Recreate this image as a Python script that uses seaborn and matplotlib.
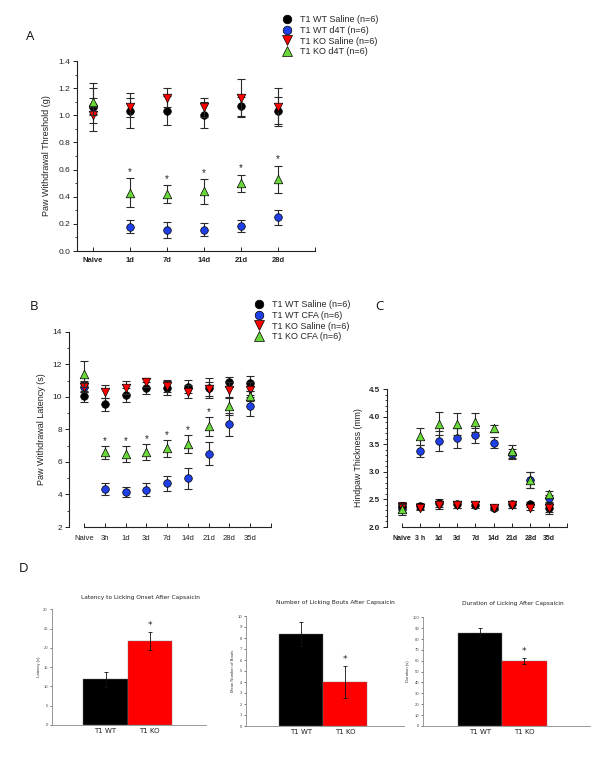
import numpy as np
import pandas as pd
import matplotlib
matplotlib.use('Agg')
import matplotlib.pyplot as plt
from matplotlib.lines import Line2D
from matplotlib.ticker import MultipleLocator
import seaborn as sns

sns.set_theme(style='white')
plt.rcParams['font.family'] = ['Liberation Sans', 'DejaVu Sans']

# ---------------- Panel A data ----------------
a_days = ['Naive', '1d', '7d', '14d', '21d', '28d']
a_wt_saline = [1.07, 1.035, 1.035, 1.00, 1.065, 1.035]
a_wt_saline_err = [0.06, 0.13, 0.105, 0.095, 0.07, 0.10]
a_wt_d4t = [1.06, 0.18, 0.155, 0.155, 0.185, 0.25]
a_wt_d4t_err = [0.175, 0.05, 0.058, 0.048, 0.045, 0.055]
a_ko_saline = [1.00, 1.06, 1.13, 1.06, 1.13, 1.06]
a_ko_saline_err = [0.06, 0.07, 0.07, 0.07, 0.14, 0.14]
a_ko_d4t = [1.10, 0.43, 0.42, 0.44, 0.50, 0.53]
a_ko_d4t_err = [0.10, 0.105, 0.066, 0.09, 0.063, 0.10]
a_star_idx = [1, 2, 3, 4, 5]
a_labels = ['T1 WT Saline (n=6)', 'T1 WT d4T (n=6)', 'T1 KO Saline (n=6)', 'T1 KO d4T (n=6)']

# ---------------- Panel B data ----------------
b_days = ['Naive', '3h', '1d', '3d', '7d', '14d', '21d', '28d', '35d']
b_wt_saline = [10.02, 9.55, 10.10, 10.53, 10.53, 10.63, 10.53, 10.90, 10.83]
b_wt_saline_err = [0.35, 0.4, 0.45, 0.35, 0.45, 0.4, 0.6, 0.3, 0.45]
b_wt_cfa = [10.60, 4.33, 4.13, 4.29, 4.68, 4.99, 6.50, 8.32, 9.46]
b_wt_cfa_err = [0.3, 0.38, 0.3, 0.4, 0.45, 0.65, 0.7, 0.7, 0.65]
b_ko_saline = [10.63, 10.32, 10.57, 10.88, 10.67, 10.32, 10.47, 10.43, 10.43]
b_ko_saline_err = [0.35, 0.4, 0.4, 0.3, 0.35, 0.4, 0.45, 0.5, 0.45]
b_ko_cfa = [11.39, 6.60, 6.48, 6.60, 6.83, 7.11, 8.18, 9.44, 10.06]
b_ko_cfa_err = [0.8, 0.4, 0.5, 0.5, 0.5, 0.55, 0.6, 0.55, 0.3]
b_star_idx = [1, 2, 3, 4, 5, 6]
b_labels = ['T1 WT Saline (n=6)', 'T1 WT CFA (n=6)', 'T1 KO Saline (n=6)', 'T1 KO CFA (n=6)']

# ---------------- Panel C data ----------------
c_days = ['Naive', '3 h', '1d', '3d', '7d', '14d', '21d', '28d', '35d']
c_wt_saline = [2.38, 2.38, 2.43, 2.41, 2.40, 2.35, 2.41, 2.41, 2.34]
c_wt_saline_err = [0.08, 0.05, 0.07, 0.06, 0.06, 0.04, 0.06, 0.05, 0.1]
c_wt_cfa = [2.35, 3.38, 3.56, 3.62, 3.66, 3.53, 3.32, 2.85, 2.52]
c_wt_cfa_err = [0.08, 0.11, 0.18, 0.18, 0.14, 0.1, 0.09, 0.14, 0.06]
c_ko_saline = [2.36, 2.35, 2.39, 2.40, 2.40, 2.34, 2.40, 2.35, 2.34]
c_ko_saline_err = [0.06, 0.05, 0.06, 0.05, 0.05, 0.04, 0.06, 0.05, 0.06]
c_ko_cfa = [2.32, 3.64, 3.87, 3.87, 3.90, 3.79, 3.37, 2.85, 2.59]
c_ko_cfa_err = [0.1, 0.15, 0.21, 0.2, 0.17, 0.06, 0.12, 0.15, 0.06]

# ---------------- Panel D data ----------------
d_groups = ['T1 WT', 'T1 KO']
d1_vals = [11.8, 21.8]
d1_err = [2.0, 2.3]
d2_vals = [8.35, 4.0]
d2_err = [1.07, 1.43]
d3_vals = [86.0, 59.8]
d3_err = [3.7, 2.6]
d_titles = ['Latency to Licking Onset After Capsaicin',
            'Number of Licking Bouts After Capsaicin',
            'Duration of Licking After Capsaicin']
d_ylabels = ['Latency (s)', 'Mean Number of Bouts', 'Duration (s)']

# ---------------- styles ----------------
BLACK = '#000000'
BLUE = '#1f3fe6'
RED = '#ff0000'
GREEN = '#6ad83a'
styles = [('o', BLACK, 30), ('o', BLUE, 30), ('v', RED, 38), ('^', GREEN, 38)]
zorders = [4, 3, 5, 6]

W, H = 600, 776
fig = plt.figure(figsize=(6.0, 7.76), dpi=100)
fig.patch.set_facecolor('white')


def ax_px(left, right, top, bottom):
    return fig.add_axes([left / W, 1 - bottom / H, (right - left) / W, (bottom - top) / H])


def draw_series(ax, y, err, style, z):
    marker, color, s = style
    x = np.arange(len(y))
    ax.errorbar(x, y, yerr=err, fmt='none', ecolor='#2a2a2a', elinewidth=0.8,
                capsize=2.6, capthick=0.8, zorder=z)
    sns.scatterplot(x=x, y=y, marker=marker, color=color, s=s, edgecolor='black',
                    linewidth=0.5, ax=ax, zorder=z + 0.5, legend=False)


def style_axes(ax, yfs=6, xfs=5.5, xbold=False):
    sns.despine(ax=ax)
    for sp in ['left', 'bottom']:
        ax.spines[sp].set_color('#222222')
        ax.spines[sp].set_linewidth(0.8)
    ax.set_facecolor('white')
    ax.tick_params(axis='y', which='major', direction='out', length=3, width=0.7,
                   labelsize=yfs, colors='#222222', left=True, pad=2)
    ax.tick_params(axis='y', which='minor', direction='out', length=1.6, width=0.6,
                   left=True, colors='#222222')
    ax.tick_params(axis='x', which='major', direction='in', length=3, width=0.7,
                   labelsize=xfs, colors='#222222', bottom=True, pad=4)
    if xbold:
        for lab in ax.get_xticklabels():
            lab.set_fontweight('bold')


def legend_handles(labels):
    hs = []
    for (m, c, s), lab in zip(styles, labels):
        hs.append(Line2D([], [], marker=m, color='none', markerfacecolor=c,
                         markeredgecolor='black', markeredgewidth=0.5,
                         markersize=6.2 if m == 'o' else 6.8, label=lab))
    return hs

# ================= Panel A =================
axA = ax_px(77, 315, 61, 251)
series_A = [(a_wt_saline, a_wt_saline_err), (a_wt_d4t, a_wt_d4t_err),
            (a_ko_saline, a_ko_saline_err), (a_ko_d4t, a_ko_d4t_err)]
for i, (y, e) in enumerate(series_A):
    draw_series(axA, y, e, styles[i], zorders[i])
axA.set_xlim(-0.43, 6.0)
axA.set_ylim(0, 1.4)
axA.set_yticks(np.arange(0, 1.41, 0.2))
axA.set_yticklabels([f'{v:.1f}' for v in np.arange(0, 1.41, 0.2)])
axA.yaxis.set_minor_locator(MultipleLocator(0.1))
axA.set_xticks(range(len(a_days) + 1))
axA.set_xticklabels(a_days + [''])
style_axes(axA, yfs=6, xfs=5.5, xbold=True)
axA.set_ylabel('Paw Withdrawal Threshold (g)', fontsize=6.5, color='#222222', labelpad=5)
for i in a_star_idx:
    axA.text(i, a_ko_d4t[i] + a_ko_d4t_err[i] + 0.045, '*', ha='center', va='center',
             fontsize=7, color='#222222')
fig.legend(handles=legend_handles(a_labels), loc='upper left',
           bbox_to_anchor=(282.5 / W, 1 - 15.5 / H), frameon=False, fontsize=6.5,
           handlelength=1.0, handletextpad=0.9, labelspacing=0.17, borderpad=0,
           borderaxespad=0)

# ================= Panel B =================
axB = ax_px(69, 271, 331.7, 527)
series_B = [(b_wt_saline, b_wt_saline_err), (b_wt_cfa, b_wt_cfa_err),
            (b_ko_saline, b_ko_saline_err), (b_ko_cfa, b_ko_cfa_err)]
for i, (y, e) in enumerate(series_B):
    draw_series(axB, y, e, styles[i], zorders[i])
axB.set_xlim(-0.72, 9.0)
axB.set_ylim(2, 14)
axB.set_yticks(range(2, 15, 2))
axB.yaxis.set_minor_locator(MultipleLocator(1))
axB.set_xticks(range(len(b_days) + 1))
axB.set_xticklabels(b_days + [''])
style_axes(axB, yfs=6, xfs=5.5)
axB.tick_params(axis='x', pad=6)
axB.spines['bottom'].set_bounds(0, 9)
axB.set_ylabel('Paw Withdrawal Latency (s)', fontsize=6.5, color='#222222', labelpad=5)
for i in b_star_idx:
    axB.text(i, b_ko_cfa[i] + b_ko_cfa_err[i] + 0.3, '*', ha='center', va='center',
             fontsize=7, color='#222222')
fig.legend(handles=legend_handles(b_labels), loc='upper left',
           bbox_to_anchor=(254.5 / W, 1 - 300.5 / H), frameon=False, fontsize=6.5,
           handlelength=1.0, handletextpad=0.9, labelspacing=0.17, borderpad=0,
           borderaxespad=0)

# ================= Panel C =================
axC = ax_px(387, 567, 389, 527)
series_C = [(c_wt_saline, c_wt_saline_err), (c_wt_cfa, c_wt_cfa_err),
            (c_ko_saline, c_ko_saline_err), (c_ko_cfa, c_ko_cfa_err)]
for i, (y, e) in enumerate(series_C):
    draw_series(axC, y, e, styles[i], zorders[i])
axC.set_xlim(-0.82, 9.0)
axC.set_ylim(2.0, 4.5)
axC.set_yticks(np.arange(2.0, 4.51, 0.5))
axC.set_yticklabels([f'{v:.1f}' for v in np.arange(2.0, 4.51, 0.5)], fontweight='bold')
axC.yaxis.set_minor_locator(MultipleLocator(0.1))
axC.set_xticks(range(len(c_days) + 1))
axC.set_xticklabels(c_days + [''])
style_axes(axC, yfs=5.8, xfs=5, xbold=True)
axC.tick_params(axis='x', pad=6)
axC.spines['bottom'].set_bounds(0, 9)
axC.set_ylabel('Hindpaw Thickness (mm)', fontsize=6.3, color='#222222', labelpad=4)

# ================= Panel D =================
d_specs = [
    (d1_vals, d1_err, (52, 206, 609.3, 725), (0, 30), 5, (-1.21, 2.27), 140, 597),
    (d2_vals, d2_err, (246, 403.5, 616, 726), (0, 10), 1, (-1.245, 2.33), 335, 602.7),
    (d3_vals, d3_err, (423.3, 589.5, 617.3, 725.9), (0, 100), 10, (-1.27, 2.46), 513, 603.3),
]
for k, (vals, err, box, ylim, step, xlim, tx, ty) in enumerate(d_specs):
    ax = ax_px(*box)
    sns.barplot(x=d_groups, y=vals, hue=d_groups, palette=[BLACK, RED], width=1.0,
                saturation=1, legend=False, ax=ax, edgecolor='#777777', linewidth=0.3,
                errorbar=None)
    ax.errorbar([0, 1], vals, yerr=err, fmt='none', ecolor='#111111', elinewidth=0.6,
                capsize=1.6, capthick=0.6, zorder=5)
    ax.annotate('*', xy=(1, vals[1] + err[1]), xytext=(0, 1.5), textcoords='offset points',
                ha='center', va='bottom', fontsize=6.5, color='#222222',
                family='DejaVu Sans')
    ax.set_xlim(*xlim)
    ax.set_ylim(*ylim)
    ax.set_yticks(np.arange(ylim[0], ylim[1] + 0.01, step))
    sns.despine(ax=ax)
    for sp in ['left', 'bottom']:
        ax.spines[sp].set_color('#888888')
        ax.spines[sp].set_linewidth(0.6)
    ax.tick_params(axis='y', direction='out', length=1.5, width=0.5, labelsize=3,
                   colors='#444444', left=True, pad=1.5)
    ax.tick_params(axis='x', length=0, labelsize=5, pad=2.5, colors='#222222')
    for lab in ax.get_xticklabels():
        lab.set_family('DejaVu Sans')
    ax.set_xlabel('')
    ax.set_ylabel(d_ylabels[k], fontsize=3, color='#333333', labelpad=2)
    fig.text(tx / W, 1 - ty / H, d_titles[k], ha='center', va='center', fontsize=4.2,
             family='DejaVu Sans', color='#222222')

# ---------------- Panel letters ----------------
for letter, x, y in [('A', 30, 37), ('B', 34, 307), ('C', 379, 307), ('D', 24, 569)]:
    fig.text(x / W, 1 - y / H, letter, ha='center', va='center', fontsize=9.5,
             family=['Open Sans', 'DejaVu Sans'], color='#111111')

fig.savefig('out.png', dpi=100, facecolor='white')
